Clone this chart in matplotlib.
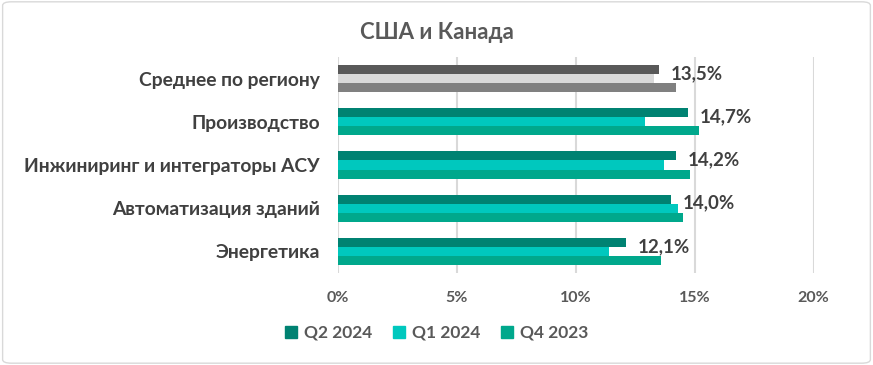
import matplotlib
matplotlib.use('Agg')
import matplotlib.pyplot as plt
from matplotlib.patches import FancyBboxPatch, Patch

plt.rcParams['font.family'] = ['Lato', 'DejaVu Sans']
plt.rcParams['font.weight'] = 'bold'

categories = ['Среднее по региону', 'Производство', 'Инжиниринг и интеграторы АСУ',
              'Автоматизация зданий', 'Энергетика']
q2_2024 = [13.5, 14.7, 14.2, 14.0, 12.1]
q1_2024 = [13.3, 12.9, 13.7, 14.3, 11.4]
q4_2023 = [14.2, 15.2, 14.8, 14.5, 13.6]
labels = ['13,5%', '14,7%', '14,2%', '14,0%', '12,1%']
series_names = ['Q2 2024', 'Q1 2024', 'Q4 2023']
xticks = [0, 5, 10, 15, 20]
xtick_labels = ['0%', '5%', '10%', '15%', '20%']

teal = ['#008272', '#00C8BE', '#00A88C']
grey = ['#595959', '#D9D9D9', '#808080']

fig = plt.figure(figsize=(8.73, 3.65), dpi=100)
ax = fig.add_axes([0.387, 0.252, 0.545, 0.592])

h = 0.21
series = [q2_2024, q1_2024, q4_2023]
for i, vals in enumerate(series):
    for j, v in enumerate(vals):
        c = grey[i] if j == 0 else teal[i]
        ax.barh(j + (i - 1) * h, v, height=h, color=c, zorder=2)

for j, v in enumerate(q2_2024):
    ax.text(v + 0.5, j - h * 0.55, labels[j], ha='left', va='center',
            fontsize=13.5, color='#404040', fontweight='bold')

ax.set_ylim(4.5, -0.5)
ax.set_xlim(0, 20)
ax.set_xticks(xticks)
ax.set_xticklabels(xtick_labels, color='#595959', fontsize=11.5)
ax.set_yticks(range(len(categories)))
ax.set_yticklabels(categories, color='#404040', fontsize=13.9)
ax.tick_params(length=0, pad=13, axis='x')
ax.tick_params(length=0, pad=13, axis='y')
ax.grid(axis='x', color='#D9D9D9', linewidth=1.5, zorder=0)
for s in ax.spines.values():
    s.set_visible(False)

fig.text(0.5, 0.91, 'США и Канада', ha='center', va='center',
         fontsize=16, color='#595959', fontweight='bold')

handles = [Patch(color=c) for c in teal]
fig.legend(handles, series_names, loc='center', bbox_to_anchor=(0.5, 0.088),
           ncol=3, frameon=False, fontsize=12.5, labelcolor='#595959',
           handlelength=0.7, handleheight=0.7, columnspacing=1.2, handletextpad=0.4)

fig.patches.append(FancyBboxPatch((0.003, 0.005), 0.994, 0.99, boxstyle='round,pad=0,rounding_size=0.01',
                                  transform=fig.transFigure, fill=False, edgecolor='#D9D9D9', linewidth=1))

fig.savefig('out.png', dpi=100)
